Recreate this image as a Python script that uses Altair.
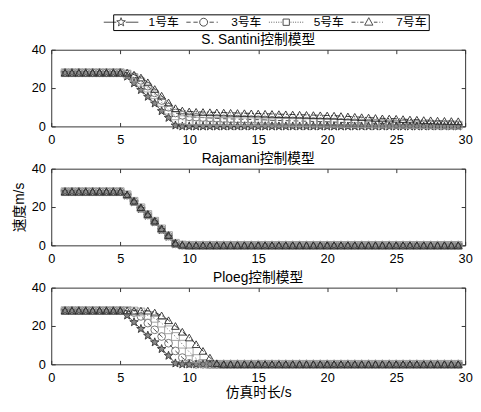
import math
import altair as alt
import pandas as pd

# ---------------- data ----------------
T = [1.0, 1.5, 2.0, 2.5, 3.0, 3.5, 4.0, 4.5, 5.0, 5.5,
     6.0, 6.5, 7.0, 7.5, 8.0, 8.5, 9.0, 9.5, 10.0, 10.5,
     11.0, 11.5, 12.0, 12.5, 13.0, 13.5, 14.0, 14.5, 15.0, 15.5,
     16.0, 16.5, 17.0, 17.5, 18.0, 18.5, 19.0, 19.5, 20.0, 20.5,
     21.0, 21.5, 22.0, 22.5, 23.0, 23.5, 24.0, 24.5, 25.0, 25.5,
     26.0, 26.5, 27.0, 27.5, 28.0, 28.5, 29.0, 29.5]

CARS = ["1号车", "3号车", "5号车", "7号车"]
MODELS = ["S. Santini控制模型", "Rajamani控制模型", "Ploeg控制模型"]
X_TICKS = [0, 5, 10, 15, 20, 25, 30]
Y_TICKS = [0, 20, 40]

santini_1 = [28, 28, 28, 28, 28, 28, 28, 28, 28, 26.0,
             22.5, 19.0, 15.5, 12.0, 8.0, 4.5, 0.5, 0, 0, 0,
             0, 0, 0, 0, 0, 0, 0, 0, 0, 0,
             0, 0, 0, 0, 0, 0, 0, 0, 0, 0,
             0, 0, 0, 0, 0, 0, 0, 0, 0, 0,
             0, 0, 0, 0, 0, 0, 0, 0]
santini_3 = [28, 28, 28, 28, 28, 28, 28, 28, 28, 27.5,
             26.0, 24.0, 21.0, 17.5, 13.5, 10.0, 7.0, 5.8, 5.0, 4.8,
             4.6, 4.4, 4.2, 4.0, 3.9, 3.8, 3.7, 3.6, 3.5, 3.4,
             3.2, 3.1, 3.0, 2.9, 2.8, 2.7, 2.6, 2.5, 2.4, 2.3,
             2.1, 2.0, 1.9, 1.8, 1.7, 1.6, 1.5, 1.4, 1.3, 1.2,
             1.1, 1.0, 0.9, 0.9, 0.8, 0.8, 0.7, 0.7]
santini_5 = [28, 28, 28, 28, 28, 28, 28, 28, 28, 27.3,
             25.5, 23.0, 20.0, 16.5, 12.5, 8.5, 5.5, 3.5, 3.0, 2.8,
             2.7, 2.7, 2.6, 2.6, 2.5, 2.5, 2.4, 2.4, 2.3, 2.3,
             2.2, 2.1, 2.1, 2.0, 2.0, 1.9, 1.8, 1.8, 1.7, 1.7,
             1.6, 1.5, 1.5, 1.4, 1.4, 1.3, 1.3, 1.2, 1.1, 1.1,
             1.0, 0.9, 0.9, 0.8, 0.8, 0.7, 0.7, 0.6]
santini_7 = [28, 28, 28, 28, 28, 28, 28, 28, 28, 28.0,
             27.0, 25.5, 23.0, 19.5, 16.0, 12.5, 9.5, 8.3, 7.8, 7.6,
             7.5, 7.4, 7.3, 7.2, 7.1, 7.0, 6.9, 6.8, 6.7, 6.6,
             6.5, 6.4, 6.3, 6.2, 6.1, 6.0, 5.9, 5.8, 5.7, 5.6,
             5.4, 5.2, 5.0, 4.8, 4.6, 4.4, 4.2, 4.1, 4.0, 3.8,
             3.6, 3.5, 3.3, 3.2, 3.0, 2.9, 2.8, 2.7]

raj_1 = [28, 28, 28, 28, 28, 28, 28, 28, 28, 26.0,
         22.5, 19.0, 15.5, 12.0, 8.0, 4.5, 0.5, 0, 0, 0,
         0, 0, 0, 0, 0, 0, 0, 0, 0, 0,
         0, 0, 0, 0, 0, 0, 0, 0, 0, 0,
         0, 0, 0, 0, 0, 0, 0, 0, 0, 0,
         0, 0, 0, 0, 0, 0, 0, 0]
raj_3 = [28, 28, 28, 28, 28, 28, 28, 28, 28, 26.2,
         22.8, 19.3, 15.8, 12.3, 8.3, 4.8, 0.8, 0.1, 0, 0,
         0, 0, 0, 0, 0, 0, 0, 0, 0, 0,
         0, 0, 0, 0, 0, 0, 0, 0, 0, 0,
         0, 0, 0, 0, 0, 0, 0, 0, 0, 0,
         0, 0, 0, 0, 0, 0, 0, 0]
raj_5 = [28, 28, 28, 28, 28, 28, 28, 28, 28, 26.4,
         23.0, 19.6, 16.1, 12.6, 8.6, 5.1, 1.1, 0.2, 0, 0,
         0, 0, 0, 0, 0, 0, 0, 0, 0, 0,
         0, 0, 0, 0, 0, 0, 0, 0, 0, 0,
         0, 0, 0, 0, 0, 0, 0, 0, 0, 0,
         0, 0, 0, 0, 0, 0, 0, 0]
raj_7 = [28, 28, 28, 28, 28, 28, 28, 28, 28, 26.6,
         23.3, 19.9, 16.4, 12.9, 8.9, 5.4, 1.4, 0.3, 0, 0,
         0, 0, 0, 0, 0, 0, 0, 0, 0, 0,
         0, 0, 0, 0, 0, 0, 0, 0, 0, 0,
         0, 0, 0, 0, 0, 0, 0, 0, 0, 0,
         0, 0, 0, 0, 0, 0, 0, 0]

ploeg_1 = [28, 28, 28, 28, 28, 28, 28, 28, 28, 25.5,
           22.0, 18.5, 15.0, 11.5, 8.0, 4.5, 0.5, 0, 0, 0,
           0, 0, 0, 0, 0, 0, 0, 0, 0, 0,
           0, 0, 0, 0, 0, 0, 0, 0, 0, 0,
           0, 0, 0, 0, 0, 0, 0, 0, 0, 0,
           0, 0, 0, 0, 0, 0, 0, 0]
ploeg_3 = [28, 28, 28, 28, 28, 28, 28, 28, 28, 27.8,
           27.0, 25.0, 21.5, 18.0, 14.5, 11.0, 7.0, 3.5, 0.5, 0,
           0, 0, 0, 0, 0, 0, 0, 0, 0, 0,
           0, 0, 0, 0, 0, 0, 0, 0, 0, 0,
           0, 0, 0, 0, 0, 0, 0, 0, 0, 0,
           0, 0, 0, 0, 0, 0, 0, 0]
ploeg_5 = [28, 28, 28, 28, 28, 28, 28, 28, 28, 28.0,
           27.8, 27.3, 25.5, 24.0, 21.5, 18.0, 14.5, 10.5, 6.5, 3.0,
           0.5, 0, 0, 0, 0, 0, 0, 0, 0, 0,
           0, 0, 0, 0, 0, 0, 0, 0, 0, 0,
           0, 0, 0, 0, 0, 0, 0, 0, 0, 0,
           0, 0, 0, 0, 0, 0, 0, 0]
ploeg_7 = [28, 28, 28, 28, 28, 28, 28, 28, 28, 28.0,
           28.0, 28.0, 28.0, 27.0, 25.5, 23.0, 20.0, 17.0, 14.0, 10.5,
           7.0, 3.5, 0.5, 0, 0, 0, 0, 0, 0, 0,
           0, 0, 0, 0, 0, 0, 0, 0, 0, 0,
           0, 0, 0, 0, 0, 0, 0, 0, 0, 0,
           0, 0, 0, 0, 0, 0, 0, 0]

SERIES = {
    MODELS[0]: [santini_1, santini_3, santini_5, santini_7],
    MODELS[1]: [raj_1, raj_3, raj_5, raj_7],
    MODELS[2]: [ploeg_1, ploeg_3, ploeg_5, ploeg_7],
}

rows = []
for model, lists in SERIES.items():
    for car, vals in zip(CARS, lists):
        assert len(vals) == len(T), (model, car, len(vals))
        for t, v in zip(T, vals):
            rows.append({"model": model, "car": car, "t": t, "v": v})
df = pd.DataFrame(rows)

# ---------------- styling ----------------
FONT = "Liberation Sans, Noto Sans CJK SC"
PW, PH = 421, 78


def star_path(R=1.15, r=0.48):
    pts = []
    for k in range(10):
        ang = -math.pi / 2 + k * math.pi / 5
        rad = R if k % 2 == 0 else r
        pts.append((rad * math.cos(ang), rad * math.sin(ang)))
    return "M" + "L".join(f"{x:.3f},{y:.3f}" for x, y in pts) + "Z"


STAR = star_path()
CIRCLE = "M1,0A1,1 0 1,1 -1,0A1,1 0 1,1 1,0Z"
SQUARE = "M-0.8,-0.8L0.8,-0.8L0.8,0.8L-0.8,0.8Z"
TRI = "M0,-1.15L1.05,0.75L-1.05,0.75Z"
# invisible zero-length piece: widens the legend entry to the left
PAD_LEFT = "M-5.4,0L-5.4,0"


def segs(pairs):
    return "".join(f"M{a:.2f},0L{b:.2f},0" for a, b in pairs)


def dotted(a, b, step=0.6, dot=0.22):
    out = []
    x = a
    while x + dot <= b + 1e-9:
        out.append((x, x + dot))
        x += step
    return out


LEGEND_PATHS = [
    PAD_LEFT + segs([(-4.4, -1.2), (1.2, 4.4)]) + STAR,
    PAD_LEFT + segs([(-4.4, -3.3), (-2.6, -1.5), (1.5, 2.6), (3.3, 3.6)]) + CIRCLE,
    PAD_LEFT + segs(dotted(-4.4, -1.1) + dotted(1.1, 4.4)) + SQUARE,
    PAD_LEFT + segs([(-4.4, -3.4), (-2.9, -2.7), (-2.2, -1.3), (1.3, 2.2), (2.7, 2.9),
                     (3.4, 3.6)]) + TRI,
]

LINE_COLORS = ["#1a1a1a", "#333333", "#7a7a7a", "#1a1a1a"]
DASHES = [[1, 0], [5, 3], [1.5, 2], [6, 2, 1.5, 2]]
PT_STROKE = ["#333333", "#666666", "#9a9a9a", "#2a2a2a"]
PT_FILL = ["#8a8a8a", "transparent", "transparent", "transparent"]
SHAPES = [STAR, "circle", "square", "triangle-up"]

xscale = alt.Scale(domain=[0, 30], nice=False, zero=False)
yscale = alt.Scale(domain=[0, 40], nice=False)


def panel(i, model):
    d = df[df.model == model]
    base = alt.Chart(d)
    xb_kw = dict(orient="bottom", values=X_TICKS, offset=-4, tickSize=4, domain=False,
                 grid=False, labelPadding=7, minExtent=0, labelFlush=False, title=None)
    if i == 2:
        xb_kw.update(title="仿真时长/s", titlePadding=2)
    yl_kw = dict(orient="left", values=Y_TICKS, offset=-4, tickSize=4, domain=False,
                 grid=False, labelPadding=6, minExtent=0, labelFlush=False, title=None)
    if i == 1:
        yl_kw.update(title="速度m/s", titlePadding=5)

    lines = base.mark_line(strokeWidth=0.9).encode(
        x=alt.X("t:Q", scale=xscale, axis=alt.Axis(**xb_kw)),
        y=alt.Y("v:Q", scale=yscale, axis=alt.Axis(**yl_kw)),
        color=alt.Color("car:N", scale=alt.Scale(domain=CARS, range=LINE_COLORS), legend=None),
        strokeDash=alt.StrokeDash("car:N", scale=alt.Scale(domain=CARS, range=DASHES), legend=None),
    )
    points = base.mark_point(size=62, strokeWidth=0.9, opacity=1).encode(
        x=alt.X("t:Q", scale=xscale,
                axis=alt.Axis(orient="top", values=X_TICKS, offset=-4, tickSize=4, domain=False,
                              grid=False, labels=False, minExtent=0, title=None)),
        y=alt.Y("v:Q", scale=yscale,
                axis=alt.Axis(orient="right", values=Y_TICKS, offset=-4, tickSize=4, domain=False,
                              grid=False, labels=False, minExtent=0, title=None)),
        shape=alt.Shape("car:N", scale=alt.Scale(domain=CARS, range=SHAPES), legend=None),
        stroke=alt.Stroke("car:N", scale=alt.Scale(domain=CARS, range=PT_STROKE), legend=None),
        fill=alt.Fill("car:N", scale=alt.Scale(domain=CARS, range=PT_FILL), legend=None),
    )
    ch = alt.layer(lines, points).resolve_axis(x="independent", y="independent")
    return ch.properties(
        width=PW, height=PH,
        title=alt.TitleParams(text=model, font=FONT, fontSize=14, fontWeight="normal",
                              color="black", frame="group", anchor="middle", offset=-3),
    )


legend_chart = alt.Chart(df[df.model == MODELS[0]]).transform_filter("false").mark_point(
    filled=False, color="black"
).encode(
    shape=alt.Shape(
        "car:N",
        scale=alt.Scale(domain=CARS, range=LEGEND_PATHS),
        legend=alt.Legend(
            orient="none", legendX=63, legendY=1, direction="horizontal", columns=4,
            title=None, symbolSize=64, symbolStrokeWidth=1, symbolStrokeColor="black",
            symbolFillColor="transparent", labelFont=FONT, labelFontSize=12,
            labelColor="black", labelOffset=22, columnPadding=1, padding=2,
            strokeColor="black", fillColor="white",
        ),
    )
).properties(width=PW, height=1, view=alt.ViewBackground(stroke="transparent"))

panels = alt.vconcat(*[panel(i, m) for i, m in enumerate(MODELS)], spacing=4).resolve_scale(
    shape="independent")

chart = alt.vconcat(legend_chart, panels, spacing=1).resolve_scale(
    shape="independent"
).properties(
    padding={"left": 4, "top": 1, "right": 0, "bottom": 5}
).configure_view(
    stroke="#333333", strokeWidth=1
).configure_axis(
    labelFont="Liberation Sans", labelFontSize=13, labelColor="black",
    tickColor="#333333", tickWidth=1, titleFont=FONT, titleFontSize=14,
    titleFontWeight="normal", titleColor="black",
).configure_legend(
    strokeColor="black", fillColor="white", padding=2,
)

chart.save("out.html", embed_options={"renderer": "svg", "actions": False})
